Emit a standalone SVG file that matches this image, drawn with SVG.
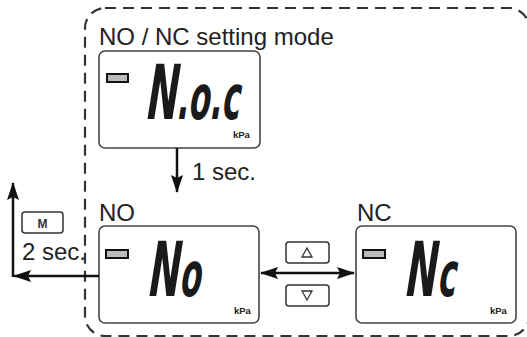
<svg xmlns="http://www.w3.org/2000/svg" width="527" height="337" viewBox="0 0 527 337">
<style>
.lbl{font-family:"Liberation Sans",Arial,sans-serif;font-size:24px;fill:#222}
.lcdbox{fill:#fff;stroke:#444;stroke-width:1.6}
.lcd{font-family:"DejaVu Sans",sans-serif;font-weight:bold;fill:#1a1a1a}
.kpa{font-family:"Liberation Sans",Arial,sans-serif;font-size:9.5px;font-weight:bold;fill:#222}
.ind{fill:#bbb;stroke:#111;stroke-width:2}
.btn{fill:#fff;stroke:#333;stroke-width:1.5}
.tri{fill:none;stroke:#333;stroke-width:1.3}
.conn{stroke:#111;stroke-width:2.5;fill:none}
</style>
<defs>
<marker id="ah" viewBox="0 0 18 12" refX="17" refY="6" markerWidth="18" markerHeight="12" orient="auto-start-reverse" markerUnits="userSpaceOnUse">
<path d="M0,0 L18,6 L0,12 L3,6 z" fill="#111"/>
</marker>
</defs>
<g id="frame">
<rect x="85" y="8" width="444" height="328" rx="20" fill="none" stroke="#333" stroke-width="2.2" stroke-dasharray="11 7"/>
<text class="lbl" x="99" y="45">NO / NC setting mode</text>
</g>
<g id="noc">
<rect class="lcdbox" x="99" y="51" width="161" height="97" rx="6"/>
<rect class="ind" x="107" y="74" width="21" height="8"/>
<text class="lcd" font-size="76" transform="translate(144,119) skewX(-9) scale(0.5,1)">N<tspan font-size="62">.o.c</tspan></text>
<text class="kpa" x="233" y="138">kPa</text>
</g>
<g id="no">
<text class="lbl" x="99" y="221">NO</text>
<rect class="lcdbox" x="99" y="226" width="160" height="97" rx="6"/>
<rect class="ind" x="106" y="250" width="22" height="8"/>
<text class="lcd" font-size="76" transform="translate(146,296) skewX(-9) scale(0.5,1)">N<tspan font-size="62" dx="2">o</tspan></text>
<text class="kpa" x="234" y="314">kPa</text>
</g>
<g id="nc">
<text class="lbl" x="357" y="221">NC</text>
<rect class="lcdbox" x="356" y="226" width="160" height="97" rx="6"/>
<rect class="ind" x="363" y="250" width="22" height="8"/>
<text class="lcd" font-size="76" transform="translate(403,296) skewX(-9) scale(0.5,1)">N<tspan font-size="62" dx="4">c</tspan></text>
<text class="kpa" x="490" y="314">kPa</text>
</g>
<g id="buttons">
<rect class="btn" x="286" y="242" width="43" height="21" rx="3"/>
<polygon class="tri" points="307,248 302,257 312,257"/>
<rect class="btn" x="286" y="285" width="43" height="21" rx="3"/>
<polygon class="tri" points="302,291 312,291 307,300"/>
<rect class="btn" x="22" y="212" width="41" height="21" rx="3"/>
<text x="42.5" y="227.5" text-anchor="middle" font-family="Liberation Sans,Arial,sans-serif" font-size="12" font-weight="bold" fill="#333">M</text>
</g>
<g id="connectors">
<line class="conn" x1="177" y1="148" x2="177" y2="192" marker-end="url(#ah)"/>
<text class="lbl" x="192" y="180">1 sec.</text>
<line class="conn" x1="261" y1="273" x2="354" y2="273" marker-start="url(#ah)" marker-end="url(#ah)"/>
<line class="conn" x1="99" y1="276" x2="14" y2="276" marker-end="url(#ah)"/>
<line class="conn" x1="13" y1="277" x2="13" y2="183" marker-end="url(#ah)"/>
<text class="lbl" x="22" y="260">2 sec.</text>
</g>
</svg>
